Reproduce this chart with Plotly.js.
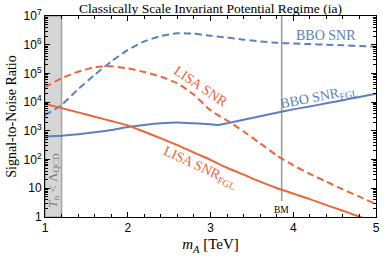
<!DOCTYPE html>
<html>
<head>
<meta charset="utf-8">
<script src="https://cdn.plot.ly/plotly-3.0.1.min.js"></script>
<style>html,body{margin:0;padding:0;background:#fff;}#chart{width:383px;height:259px;}</style>
</head>
<body>
<div id="chart"></div>
<script>
// ---- data ----
const mA = [1.0,1.2,1.4,1.6,1.8,2.0,2.2,2.4,2.6,2.8,3.0,3.2,3.4,3.6,3.8,4.0,4.2,4.4,4.6,4.8,5.0];
const bboSNR   = [3500,8000,28000,89000,260000,660000,1.3e6,2.0e6,2.5e6,2.4e6,2.05e6,1.78e6,1.5e6,1.3e6,1.17e6,1.1e6,1.05e6,1.0e6,955000,900000,850000];
const lisaSNR  = [33000,68000,115000,163000,178000,150000,112000,77000,45000,18000,5200,2300,950,370,140,63,32,17,9.1,5.1,2.8];
const mA_bboFGL = [1.0,1.2,1.4,1.6,1.8,2.0,2.2,2.4,2.6,2.8,3.0,3.1,3.2,3.4,3.6,3.8,4.0,4.2,4.4,4.6,4.8,5.0];
const bboFGL   = [630,680,760,890,1070,1350,1600,1830,1950,1830,1700,1600,1820,2450,3250,4300,5600,7100,9100,11700,15100,19500];
const mA_lisaFGL = [1.0,1.2,1.4,1.6,1.8,2.0,2.2,2.4,2.6,2.8,3.0,3.2,3.4,3.6,3.8,4.0,4.2,4.4,4.6,4.8,4.9];
const lisaFGL  = [8700,6200,4400,3100,2200,1550,930,550,320,175,98,52,30,17,10.2,6.5,4.2,2.6,1.66,1.02,0.8];
const qcdBand  = {x:[1.0,1.2,1.2,1.0,1.0], y:[1,1,1e7,1e7,1]};
const bmMass   = 3.86;
const bmLineY  = [3.6, 1e7];
const xTickVals = [1,2,3,4,5];
const xTickText = ['1','2','3','4','5'];
const yTickVals = [1,10,100,1000,1e4,1e5,1e6,1e7];
const yTickText = ['1','10','10<sup>2</sup>','10<sup>3</sup>','10<sup>4</sup>','10<sup>5</sup>','10<sup>6</sup>','10<sup>7</sup>'];

const BLUE = '#5b80bd';
const ORANGE = '#ee6437';
const SERIF = 'Liberation Serif, Times New Roman, serif';
const SANS = 'Liberation Sans, Arial, sans-serif';

const traces = [
  {x: qcdBand.x, y: qcdBand.y, mode:'lines', fill:'toself', fillcolor:'#d6d6d6',
   line:{color:'#a4a4a4', width:1.5}, hoverinfo:'skip'},
  {x:[bmMass,bmMass], y:bmLineY, mode:'lines', line:{color:'#9a9a9a', width:1.5}},
  {x: mA, y: bboSNR, mode:'lines', line:{color:BLUE, width:2, dash:'7px,4px', shape:'spline', smoothing:0.6}},
  {x: mA, y: lisaSNR, mode:'lines', line:{color:ORANGE, width:2, dash:'7px,4px', shape:'spline', smoothing:0.6}},
  {x: mA_bboFGL, y: bboFGL, mode:'lines', line:{color:BLUE, width:2, shape:'spline', smoothing:0.4}},
  {x: mA_lisaFGL, y: lisaFGL, mode:'lines', line:{color:ORANGE, width:2, shape:'spline', smoothing:0.6}}
];

const layout = {
  width:383, height:259,
  margin:{l:45, r:7, t:16, b:42},
  paper_bgcolor:'#fff', plot_bgcolor:'#fff',
  showlegend:false,
  title:{text:'Classically Scale Invariant Potential Regime (ia)', font:{family:SERIF, size:13.5, color:'#000'},
         x:0.5, xref:'paper', y:1-8/259, yref:'container', yanchor:'middle'},
  xaxis:{range:[1,5], tickvals:xTickVals, ticktext:xTickText, ticks:'inside', ticklen:5, tickcolor:'#000',
         showline:true, linecolor:'#000', linewidth:1, mirror:'allticks', showgrid:false, zeroline:false,
         tickfont:{family:SANS, size:12, color:'#000'},
         minor:{dtick:0.2, tick0:1, ticks:'inside', ticklen:3, tickcolor:'#000', showgrid:false},
         title:{text:'<i>m</i><sub><i>A</i></sub> [TeV]', font:{family:SERIF, size:15, color:'#000'}, standoff:4}},
  yaxis:{type:'log', range:[0,7], tickvals:yTickVals, ticktext:yTickText, ticks:'inside', ticklen:5, tickcolor:'#000',
         showline:true, linecolor:'#000', linewidth:1, mirror:'allticks', showgrid:false, zeroline:false,
         tickfont:{family:SANS, size:12, color:'#000'},
         minor:{dtick:'D1', ticks:'inside', ticklen:3, tickcolor:'#000', showgrid:false},
         title:{text:'Signal-to-Noise Ratio', font:{family:SERIF, size:14, color:'#000'}, standoff:3}},
  annotations:[
    {x:4.39, y:6.32, xref:'x', yref:'y', text:'BBO SNR', showarrow:false, font:{family:SERIF, size:14, color:BLUE}},
    {x:4.31, y:4.15, xref:'x', yref:'y', text:'BBO SNR<sub>FGL</sub>', showarrow:false, textangle:-11, font:{family:SERIF, size:14, color:BLUE}},
    {x:2.885, y:4.55, xref:'x', yref:'y', text:'LISA SNR', showarrow:false, textangle:34, font:{family:SERIF, size:14, color:ORANGE}},
    {x:2.87, y:1.71, xref:'x', yref:'y', text:'LISA SNR<sub>FGL</sub>', showarrow:false, textangle:25, font:{family:SERIF, size:14, color:ORANGE}},
    {x:bmMass, y:0.25, xref:'x', yref:'y', text:'BM', showarrow:false, font:{family:SERIF, size:9.5, color:'#000'}},
    {x:1.105, y:1.29, xref:'x', yref:'y', text:'<i>T</i><sub>n</sub> &lt; Λ<sub>QCD</sub>', showarrow:false, textangle:-90, font:{family:SERIF, size:13, color:'#7a7a7a'}}
  ]
};

Plotly.newPlot('chart', traces, layout, {staticPlot:true, displayModeBar:false});
</script>
</body>
</html>
